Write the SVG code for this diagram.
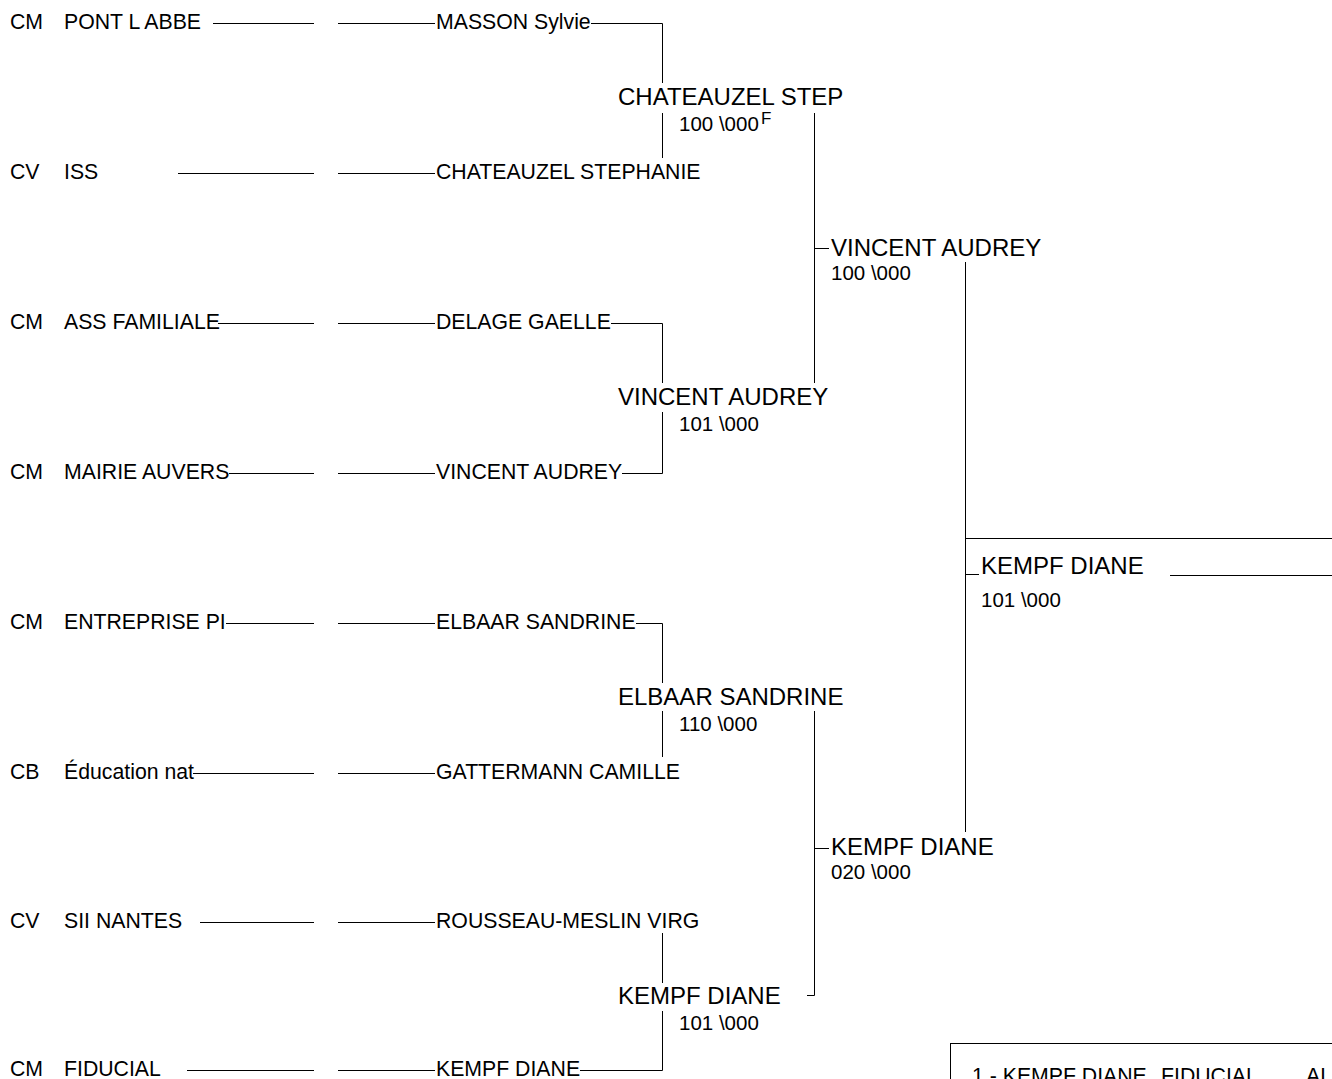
<svg xmlns="http://www.w3.org/2000/svg" width="1332" height="1079" viewBox="0 0 1332 1079">
<style>
text{font-family:"Liberation Sans",Arial,sans-serif;fill:#000}
.s{font-size:21.25px}
.b{font-size:24px}
.c{font-size:20.5px}
.sup{font-size:17px}
.ln{stroke:#000;stroke-width:1;fill:none}
</style>
<rect width="1332" height="1079" fill="#fff"/>
<g id="connectors" class="ln">
<path d="M213 23.5H314M338 23.5H435M178 173.5H314M338 173.5H435M218 323.5H314M338 323.5H435M229 473.5H314M338 473.5H435M226 623.5H314M338 623.5H435M193 773.5H314M338 773.5H435M200 922.5H314M338 922.5H435M187 1070.5H314M338 1070.5H435"/>
<path d="M591 23.5H662.5V83M662.5 113V158"/>
<path d="M611 323.5H662.5V383M662.5 412V473.5H622"/>
<path d="M636 623.5H662.5V683M662.5 711V757"/>
<path d="M662.5 933V983M662.5 1011V1070.5H580"/>
<path d="M814.5 113V383M814.5 248.5H829"/>
<path d="M814.5 711V995.5H807M814.5 848.5H829"/>
<path d="M965.5 262V832M965.5 538.5H1332M965.5 574.5H979M1170 575.5H1332"/>
</g>
<g id="leaf-rows">
<g id="r0"><text class="s" x="10" y="29">CM</text><text class="s" x="64" y="29">PONT L ABBE</text><text class="s" x="436" y="29">MASSON Sylvie</text></g>
<g id="r1"><text class="s" x="10" y="179">CV</text><text class="s" x="64" y="179">ISS</text><text class="s" x="436" y="179">CHATEAUZEL STEPHANIE</text></g>
<g id="r2"><text class="s" x="10" y="329">CM</text><text class="s" x="64" y="329">ASS FAMILIALE</text><text class="s" x="436" y="329">DELAGE GAELLE</text></g>
<g id="r3"><text class="s" x="10" y="479">CM</text><text class="s" x="64" y="479">MAIRIE AUVERS</text><text class="s" x="436" y="479">VINCENT AUDREY</text></g>
<g id="r4"><text class="s" x="10" y="629">CM</text><text class="s" x="64" y="629">ENTREPRISE PI</text><text class="s" x="436" y="629">ELBAAR SANDRINE</text></g>
<g id="r5"><text class="s" x="10" y="779">CB</text><text class="s" x="64" y="779">Éducation nat</text><text class="s" x="436" y="779">GATTERMANN CAMILLE</text></g>
<g id="r6"><text class="s" x="10" y="928">CV</text><text class="s" x="64" y="928">SII NANTES</text><text class="s" x="436" y="928">ROUSSEAU-MESLIN VIRG</text></g>
<g id="r7"><text class="s" x="10" y="1076">CM</text><text class="s" x="64" y="1076">FIDUCIAL</text><text class="s" x="436" y="1076">KEMPF DIANE</text></g>
</g>
<g id="n-chateauzel"><text class="b" x="618" y="105">CHATEAUZEL STEP</text><text class="c" x="679" y="131">100 \000</text><text class="sup" x="761" y="124">F</text></g>
<g id="n-vincent1"><text class="b" x="618" y="405">VINCENT AUDREY</text><text class="c" x="679" y="431">101 \000</text></g>
<g id="n-elbaar"><text class="b" x="618" y="705">ELBAAR SANDRINE</text><text class="c" x="679" y="731">110 \000</text></g>
<g id="n-kempf1"><text class="b" x="618" y="1004">KEMPF DIANE</text><text class="c" x="679" y="1030">101 \000</text></g>
<g id="n-vincent2"><text class="b" x="831" y="256">VINCENT AUDREY</text><text class="c" x="831" y="280">100 \000</text></g>
<g id="n-kempf2"><text class="b" x="831" y="855">KEMPF DIANE</text><text class="c" x="831" y="879">020 \000</text></g>
<g id="n-kempf3"><text class="b" x="981" y="574">KEMPF DIANE</text><text class="c" x="981" y="607">101 \000</text></g>
<g id="legend"><rect class="ln" x="950.5" y="1043.5" width="400" height="100"/><text class="s" x="972" y="1083">1 - KEMPF DIANE</text><text class="s" x="1161" y="1083">FIDUCIAL</text><text class="s" x="1306" y="1083">AL</text></g>
</svg>
